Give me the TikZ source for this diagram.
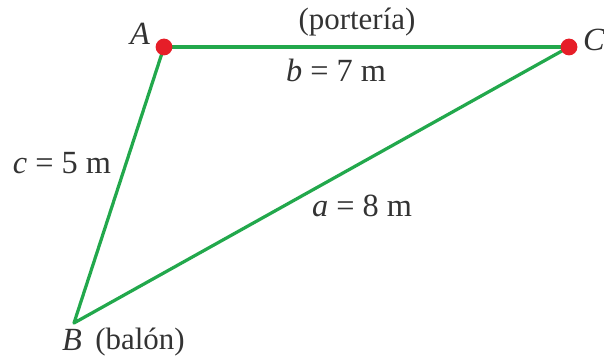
\documentclass[tikz,border=0pt]{standalone}
\usepackage{fontspec}
\setmainfont{Liberation Serif}
\usetikzlibrary{positioning}
\definecolor{ladoverde}{RGB}{34,168,76}
\definecolor{puntorojo}{RGB}{230,30,40}

\begin{document}
\begin{tikzpicture}[
    lado/.style={draw=ladoverde, line width=2.3pt, line join=round},
    punto/.style={circle, fill=puntorojo, minimum size=0.42cm, inner sep=0pt},
    etiq/.style={font=\fontsize{23}{26}\selectfont, text=black!80, inner sep=1pt}
]
\useasboundingbox (0,0) rectangle (15.1,8.95);

% vertices
\coordinate (A) at (4.1,7.775);
\coordinate (C) at (14.225,7.775);
\coordinate (B) at (1.85,0.875);

% lados del triangulo
\draw[lado] (A) -- (C);
\draw[lado] (A) -- (B) -- (C);
\node[punto] (pA) at (A) {};
\node[punto] (pC) at (C) {};

% nombres de los vertices
\node[etiq] (lA) at (3.5,8.1) {\textit{A}};
\node[etiq] (lC) at (14.85,7.95) {\textit{C}};
\node[etiq] (lB) at (1.8,0.44) {\textit{B}};
\node[etiq, font=\fontsize{22}{25}\selectfont] (balon) at (3.5,0.4) {(balón)};
\node[etiq, font=\fontsize{22}{25}\selectfont] (porteria) at (8.925,8.4) {(portería)};

% medidas
\node[etiq] (b) at (8.4,7.2) {\textit{b} = 7 m};
\node[etiq] (c) at (1.55,4.875) {\textit{c} = 5 m};
\node[etiq] (a) at (9.05,3.8) {\textit{a} = 8 m};

\end{tikzpicture}
\end{document}
